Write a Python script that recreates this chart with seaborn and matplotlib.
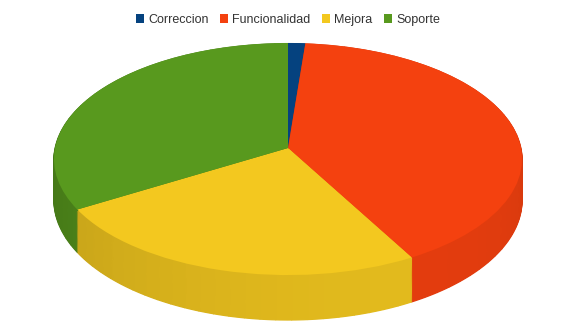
import matplotlib
matplotlib.use("Agg")
import matplotlib.pyplot as plt
import seaborn as sns
import numpy as np
from matplotlib.patches import Patch
from matplotlib.transforms import Transform
from matplotlib.colors import to_rgb

sns.set_theme(style="white")
plt.rcParams['font.family'] = ['Liberation Sans', 'DejaVu Sans']

categories = ["Correccion", "Funcionalidad", "Mejora", "Soporte"]
values = [1.3, 40.6, 24.6, 33.5]
top_colors = ["#05427f", "#f4410f", "#f3c81f", "#58991e"]

W, H = 576, 336
CX, CY = 288, 148        # pixel position of pie centre (top face)
RX, RY = 233, 115        # projected radii
P = 0.0948               # perspective strength
D = 40.7                 # wall depth (pixels at centre)


class Persp(Transform):
    """Maps a unit pie (u, v) to pixel-like data coords with a tilted perspective."""
    input_dims = 2
    output_dims = 2
    is_separable = False
    has_inverse = False

    def __init__(self, z):
        super().__init__()
        self.z = z

    def transform_non_affine(self, values):
        values = np.asarray(values, dtype=float)
        u = values[:, 0]
        v = values[:, 1]
        w = 1 + P * v
        px = CX + RX * u / w
        py = CY - RY * v / w + self.z * D / w
        return np.column_stack([px, H - py])


# wall: each slice split into thin strips, shaded by their direction
total = sum(values)
strip_vals, strip_cols = [], []
start = 0.0
for val, col in zip(values, top_colors):
    m = max(1, int(np.ceil(val / 1.0)))
    base = np.array(to_rgb(col))
    for j in range(m):
        mid = start + (j + 0.5) * val / m
        theta = np.deg2rad(mid / total * 360.0)
        f = 0.83 + 0.10 * np.cos(theta - np.deg2rad(150))
        strip_vals.append(val / m)
        strip_cols.append(tuple(np.clip(base * f, 0, 1)))
    start += val

fig = plt.figure(figsize=(W / 100, H / 100), dpi=100)
ax = fig.add_axes([0, 0, 1, 1])

N = 46
for i in range(N, 0, -1):
    z = i / N
    wedges, _ = ax.pie(strip_vals, colors=strip_cols, startangle=90, counterclock=False,
                       radius=1, center=(0, 0), frame=True, normalize=True,
                       wedgeprops=dict(linewidth=0.9))
    for wdg, c in zip(wedges, strip_cols):
        wdg.set_edgecolor(c)
        wdg.set_transform(Persp(z) + ax.transData)

wedges, _ = ax.pie(values, colors=top_colors, startangle=90, counterclock=False,
                   radius=1, center=(0, 0), frame=True,
                   wedgeprops=dict(linewidth=0))
for wdg in wedges:
    wdg.set_transform(Persp(0) + ax.transData)

ax.set_aspect('auto')
ax.set_xlim(0, W)
ax.set_ylim(0, H)
ax.axis('off')

handles = [Patch(facecolor=c, edgecolor='none') for c in top_colors]
fig.legend(handles, categories, loc='upper center', bbox_to_anchor=(0.5, 1.0),
           ncol=4, frameon=False, fontsize=9, handlelength=0.65, handleheight=0.65,
           handletextpad=0.35, columnspacing=0.9, borderaxespad=0.7,
           labelcolor='#333333')

fig.savefig("out.png", dpi=100)
